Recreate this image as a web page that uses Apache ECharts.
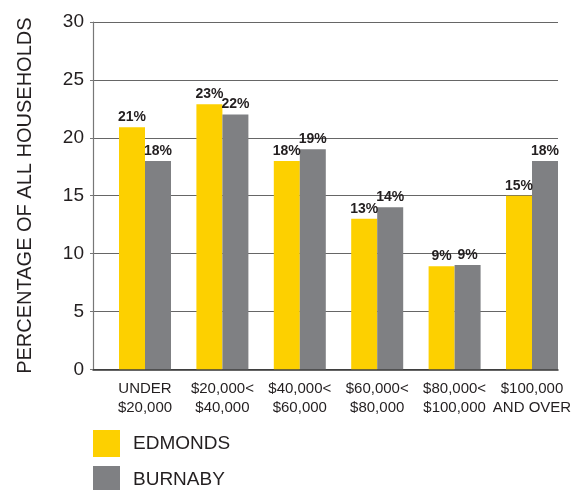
<!DOCTYPE html>
<html>
<head>
<meta charset="utf-8">
<script src="https://cdn.jsdelivr.net/npm/echarts@6/dist/echarts.min.js"></script>
<style>
  html, body { margin: 0; padding: 0; background: #fff; }
  #chart { width: 584px; height: 490px; }
</style>
</head>
<body>
<div id="chart"></div>
<script>
const categories = ['UNDER\n$20,000', '$20,000<\n$40,000', '$40,000<\n$60,000', '$60,000<\n$80,000', '$80,000<\n$100,000', '$100,000\nAND OVER'];
const edmonds = [20.9, 22.9, 18, 13, 8.9, 15];
const burnaby = [18, 22, 19, 14, 9, 18];
const yTicks = { min: 0, max: 30, interval: 5 };

const FONT = 'Liberation Sans, Arial, Helvetica, sans-serif';
const TEXT = '#231f20';

const chart = echarts.init(document.getElementById('chart'));

const barLabel = {
  show: true, position: 'top', distance: 3,
  color: TEXT, fontFamily: FONT, fontWeight: 'bold', fontSize: 14,
  formatter: p => Math.round(p.value) + '%'
};

// one legend per series so they stack like the original
const legendBase = {
  left: 93, padding: 0,
  itemWidth: 27, itemHeight: 27,
  icon: 'rect',
  textStyle: { color: TEXT, fontSize: 19, fontFamily: FONT, padding: [0, 0, 0, 8] }
};

chart.setOption({
  animation: false,
  textStyle: { fontFamily: FONT },
  // grid 0 holds the frame and gridlines, grid 1 holds the bars (offset like the original)
  grid: [
    { left: 93, width: 465, top: 22, bottom: 120.7 },
    { left: 106.3, width: 464.4, top: 22, bottom: 120.7 }
  ],
  legend: [
    Object.assign({}, legendBase, { top: 430, data: ['EDMONDS'] }),
    Object.assign({}, legendBase, { top: 466, data: ['BURNABY'] })
  ],
  xAxis: [
    {
      gridIndex: 0, type: 'value', min: 0, max: 1,
      axisLine: { show: true, onZero: false, lineStyle: { color: '#333', width: 1.5 } },
      axisTick: { show: false }, axisLabel: { show: false }, splitLine: { show: false }
    },
    {
      gridIndex: 1, type: 'category', data: categories,
      axisLine: { show: false }, axisTick: { show: false },
      axisLabel: { color: TEXT, fontSize: 15, lineHeight: 19, margin: 10, fontFamily: FONT, interval: 0 }
    }
  ],
  yAxis: [
    {
      gridIndex: 0, type: 'value', min: yTicks.min, max: yTicks.max, interval: yTicks.interval,
      name: 'PERCENTAGE OF ALL HOUSEHOLDS', nameLocation: 'middle', nameGap: 58,
      nameTextStyle: { color: TEXT, fontSize: 20, fontFamily: FONT },
      axisLine: { show: true, lineStyle: { color: '#777', width: 1.2 } },
      axisTick: { show: true, length: 3, lineStyle: { color: '#777' } },
      axisLabel: { color: TEXT, fontSize: 19, margin: 9, fontFamily: FONT },
      splitLine: { show: true, lineStyle: { color: '#666', width: 1.2 } }
    },
    {
      gridIndex: 1, type: 'value', min: yTicks.min, max: yTicks.max, interval: yTicks.interval,
      show: false, splitLine: { show: false }
    }
  ],
  series: [
    {
      name: 'EDMONDS', type: 'bar', xAxisIndex: 1, yAxisIndex: 1,
      data: edmonds, barWidth: 26, barGap: '0%',
      itemStyle: { color: '#fdd000' }, label: barLabel
    },
    {
      name: 'BURNABY', type: 'bar', xAxisIndex: 1, yAxisIndex: 1,
      data: burnaby, barWidth: 26, barGap: '0%',
      itemStyle: { color: '#7f8083' }, label: barLabel
    }
  ]
});
</script>
</body>
</html>
